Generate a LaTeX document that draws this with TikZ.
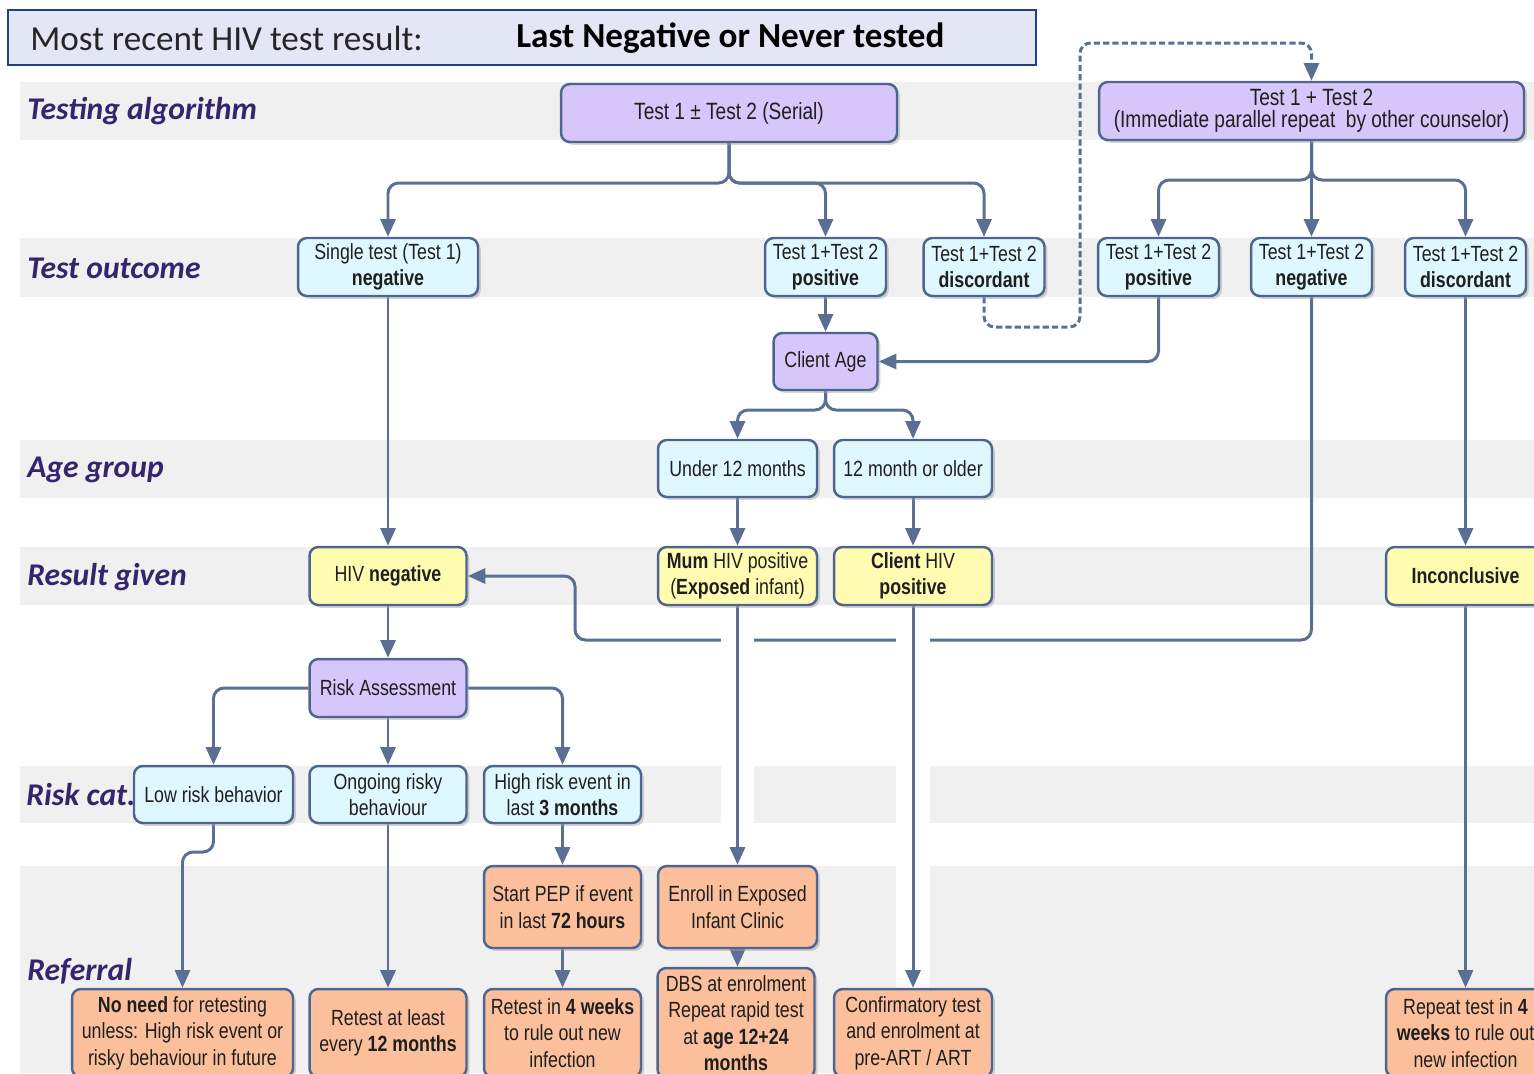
\documentclass[tikz,border=0pt]{standalone}
\usepackage{fontspec}
\setmainfont{Liberation Sans}[FakeStretch=0.81]
\newfontfamily\calfont{Carlito}
\usepackage{tikz}
\usetikzlibrary{arrows.meta, positioning, shadows, calc}

\definecolor{bandgray}{HTML}{F0F0F0}
\definecolor{boxline}{HTML}{4E6590}
\definecolor{linecol}{HTML}{5A6F93}
\definecolor{algofill}{HTML}{D6C6F9}
\definecolor{outfill}{HTML}{DFF8FF}
\definecolor{resfill}{HTML}{FFFCB2}
\definecolor{reffill}{HTML}{FBC09B}
\definecolor{headfill}{HTML}{E3E7F5}
\definecolor{headline}{HTML}{22408A}
\definecolor{labelcol}{HTML}{35246E}

\pgfdeclarelayer{bands}
\pgfdeclarelayer{links}
\pgfsetlayers{bands,links,main}

\begin{document}
\begin{tikzpicture}[
  x=0.02cm, y=-0.02cm,
  every node/.style={font=\fontsize{12.5}{15}\selectfont, align=center, text=black!88},
  box/.style={draw=boxline, line width=1.4pt, rounded corners=5pt, inner sep=2pt,
              drop shadow={shadow xshift=1.6pt, shadow yshift=-1.6pt, fill=black!35, opacity=.5}},
  algo/.style={box, fill=algofill, font=\fontsize{13.4}{12.6}\selectfont},
  ask/.style={box, fill=algofill},
  outc/.style={box, fill=outfill},
  res/.style={box, fill=resfill},
  refr/.style={box, fill=reffill},
  rowlabel/.style={anchor=west, inner sep=0pt, text=labelcol,
                   font=\calfont\bfseries\itshape\fontsize{18}{20}\selectfont},
  conn/.style={draw=linecol, line width=1.7pt, rounded corners=6pt,
               -{Triangle[width=8.5pt,length=10pt]}},
  jump/.style={conn, preaction={draw=white, line width=19pt, -}},
]
  \useasboundingbox (0,0) rectangle (1534,1073);

  % header
  \node[draw=headline, line width=1.2pt, fill=headfill, minimum width=20.56cm,
        minimum height=1.1cm, inner sep=0pt] (head) at (522,37.5) {};
  \node[anchor=west, inner sep=0pt, text=black!85,
        font=\calfont\fontsize{20}{22}\selectfont] (headl) at (30,38) {Most recent HIV test result:};
  \node[anchor=west, inner sep=0pt, text=black,
        font=\calfont\bfseries\fontsize{20}{22}\selectfont] (headr) at (516,38) {Last Negative or Never tested};

  % row labels
  \node[rowlabel] (lbalgo) at (27,111) {Testing algorithm};
  \node[rowlabel] (lbout)  at (27,268) {Test outcome};
  \node[rowlabel] (lbage)  at (27,470) {Age group};
  \node[rowlabel] (lbres)  at (27,577) {Result given};
  \node[rowlabel] (lbrisk) at (26,795) {Risk cat.};
  \node[rowlabel] (lbref)  at (27,971) {Referral};

  % testing algorithm
  \node[algo, minimum width=6.72cm, minimum height=1.16cm] (algoA) at (729,113) {Test 1 ± Test 2 (Serial)};
  \node[algo, minimum width=8.5cm, minimum height=1.16cm] (algoB) at (1311.5,111)
       {Test 1 + Test 2\\(Immediate parallel repeat~ by other counselor)};

  % test outcome
  \node[outc, minimum width=3.6cm, minimum height=1.16cm] (single) at (388,267) {Single test (Test 1)\\\textbf{negative}};
  \node[outc, minimum width=2.42cm, minimum height=1.16cm] (posA)  at (825.5,267)  {Test 1+Test 2\\\textbf{positive}};
  \node[outc, minimum width=2.42cm, minimum height=1.16cm] (discA) at (984,267)    {Test 1+Test 2\\\textbf{discordant}};
  \node[outc, minimum width=2.42cm, minimum height=1.16cm] (posB)  at (1158.5,267) {Test 1+Test 2\\\textbf{positive}};
  \node[outc, minimum width=2.42cm, minimum height=1.16cm] (negB)  at (1311.5,267) {Test 1+Test 2\\\textbf{negative}};
  \node[outc, minimum width=2.42cm, minimum height=1.16cm] (discB) at (1465.5,267) {Test 1+Test 2\\\textbf{discordant}};

  \node[ask, minimum width=2.08cm, minimum height=1.14cm] (cage) at (825.5,361.5) {Client Age};

  % age group
  \node[outc, minimum width=3.18cm, minimum height=1.14cm] (under) at (737.5,468.5) {Under 12 months};
  \node[outc, minimum width=3.16cm, minimum height=1.14cm] (older) at (913,468.5)   {12 month or older};

  % result given
  \node[res, minimum width=3.14cm, minimum height=1.16cm] (hneg)  at (388,576) {HIV \textbf{negative}};
  \node[res, minimum width=3.18cm, minimum height=1.16cm] (mum)   at (737.5,576) {\textbf{Mum} HIV positive\\(\textbf{Exposed} infant)};
  \node[res, minimum width=3.16cm, minimum height=1.16cm] (cpos)  at (913,576)   {\textbf{Client} HIV\\\textbf{positive}};
  \node[res, minimum width=3.18cm, minimum height=1.16cm] (incon) at (1465.5,576) {\textbf{Inconclusive}};

  \node[ask, minimum width=3.14cm, minimum height=1.16cm] (risk) at (388,688) {Risk Assessment};

  % risk category
  \node[outc, minimum width=3.18cm, minimum height=1.14cm] (low)  at (213.5,794.5) {Low risk behavior};
  \node[outc, minimum width=3.14cm, minimum height=1.14cm] (ongo) at (388,794.5)   {Ongoing risky\\behaviour};
  \node[outc, minimum width=3.14cm, minimum height=1.14cm] (high) at (562.5,794.5) {High risk event in\\last \textbf{3 months}};

  % referral
  \node[refr, minimum width=3.14cm, minimum height=1.64cm] (pep)    at (562.5,907) {Start PEP if event\\in last \textbf{72 hours}};
  \node[refr, minimum width=3.18cm, minimum height=1.64cm] (enroll) at (737.5,907) {Enroll in Exposed\\Infant Clinic};
  \node[refr, minimum width=3.14cm, minimum height=2.2cm]  (dbs)    at (736,1023)  {DBS at enrolment\\Repeat rapid test\\at \textbf{age 12+24}\\\textbf{months}};
  \node[refr, minimum width=4.42cm, minimum height=1.76cm] (noneed)  at (182.5,1033) {\textbf{No need} for retesting\\unless: High risk event or\\risky behaviour in future};
  \node[refr, minimum width=3.14cm, minimum height=1.76cm] (retyear) at (388,1033)   {Retest at least\\every \textbf{12 months}};
  \node[refr, minimum width=3.14cm, minimum height=1.76cm] (retfour) at (562.5,1033) {Retest in \textbf{4 weeks}\\to rule out new\\infection};
  \node[refr, minimum width=3.16cm, minimum height=1.76cm] (confirm) at (913,1033)   {Confirmatory test\\and enrolment at\\pre-ART / ART};
  \node[refr, minimum width=3.18cm, minimum height=1.76cm] (repeat)  at (1465.5,1033) {Repeat test in \textbf{4}\\\textbf{weeks} to rule out\\new infection};

  % row bands
  \begin{pgfonlayer}{bands}
    \foreach \ya/\yb in {82/140, 238/297, 440/498, 547/605, 766/823, 866/1073}
      \fill[bandgray] (20,\ya) rectangle (1534,\yb);
  \end{pgfonlayer}

  % connectors
  \begin{pgfonlayer}{links}
    \coordinate (ja) at (729,183);
    \coordinate (jb) at (1311.5,180);
    \coordinate (jc) at (825.5,410);
    \coordinate (da) at (1080,327);
    \coordinate (db) at (1080,43);
    \coordinate (nb) at (575,640);
    \coordinate (lr) at (182.5,852);

    \draw[conn] (algoA.south) -- (ja) -| (single.north);
    \draw[conn] (algoA.south) -- (ja) -| (posA.north);
    \draw[conn] (algoA.south) -- (ja) -| (discA.north);
    \draw[conn, dash pattern=on 3.5pt off 1.8pt] (discA.south) |- (da) -- (db) -| (algoB.north);
    \draw[conn] (algoB.south) -- (jb) -| (posB.north);
    \draw[conn] (algoB.south) -- (negB.north);
    \draw[conn] (algoB.south) -- (jb) -| (discB.north);

    \draw[conn] (posA.south) -- (cage.north);
    \draw[conn] (posB.south) |- (cage.east);
    \draw[conn] (cage.south) -- (jc) -| (under.north);
    \draw[conn] (cage.south) -- (jc) -| (older.north);

    \draw[conn] (single.south) -- (hneg.north);
    \draw[conn] (under.south) -- (mum.north);
    \draw[conn] (older.south) -- (cpos.north);
    \draw[conn] (discB.south) -- (incon.north);
    \draw[conn] (negB.south) |- (nb) |- (hneg.east);

    \draw[conn] (hneg.south) -- (risk.north);
    \draw[conn] (risk.west) -| (low.north);
    \draw[conn] (risk.south) -- (ongo.north);
    \draw[conn] (risk.east) -| (high.north);

    \draw[conn] (low.south) |- (lr) -- (noneed.north);
    \draw[conn] (ongo.south) -- (retyear.north);
    \draw[conn] (high.south) -- (pep.north);
    \draw[conn] (pep.south) -- (retfour.north);
    \draw[jump] (mum.south) -- (enroll.north);
    \draw[conn] (enroll.south) -- (enroll.south |- dbs.north);
    \draw[jump] (cpos.south) -- (confirm.north);
    \draw[conn] (incon.south) -- (repeat.north);
  \end{pgfonlayer}
\end{tikzpicture}
\end{document}
